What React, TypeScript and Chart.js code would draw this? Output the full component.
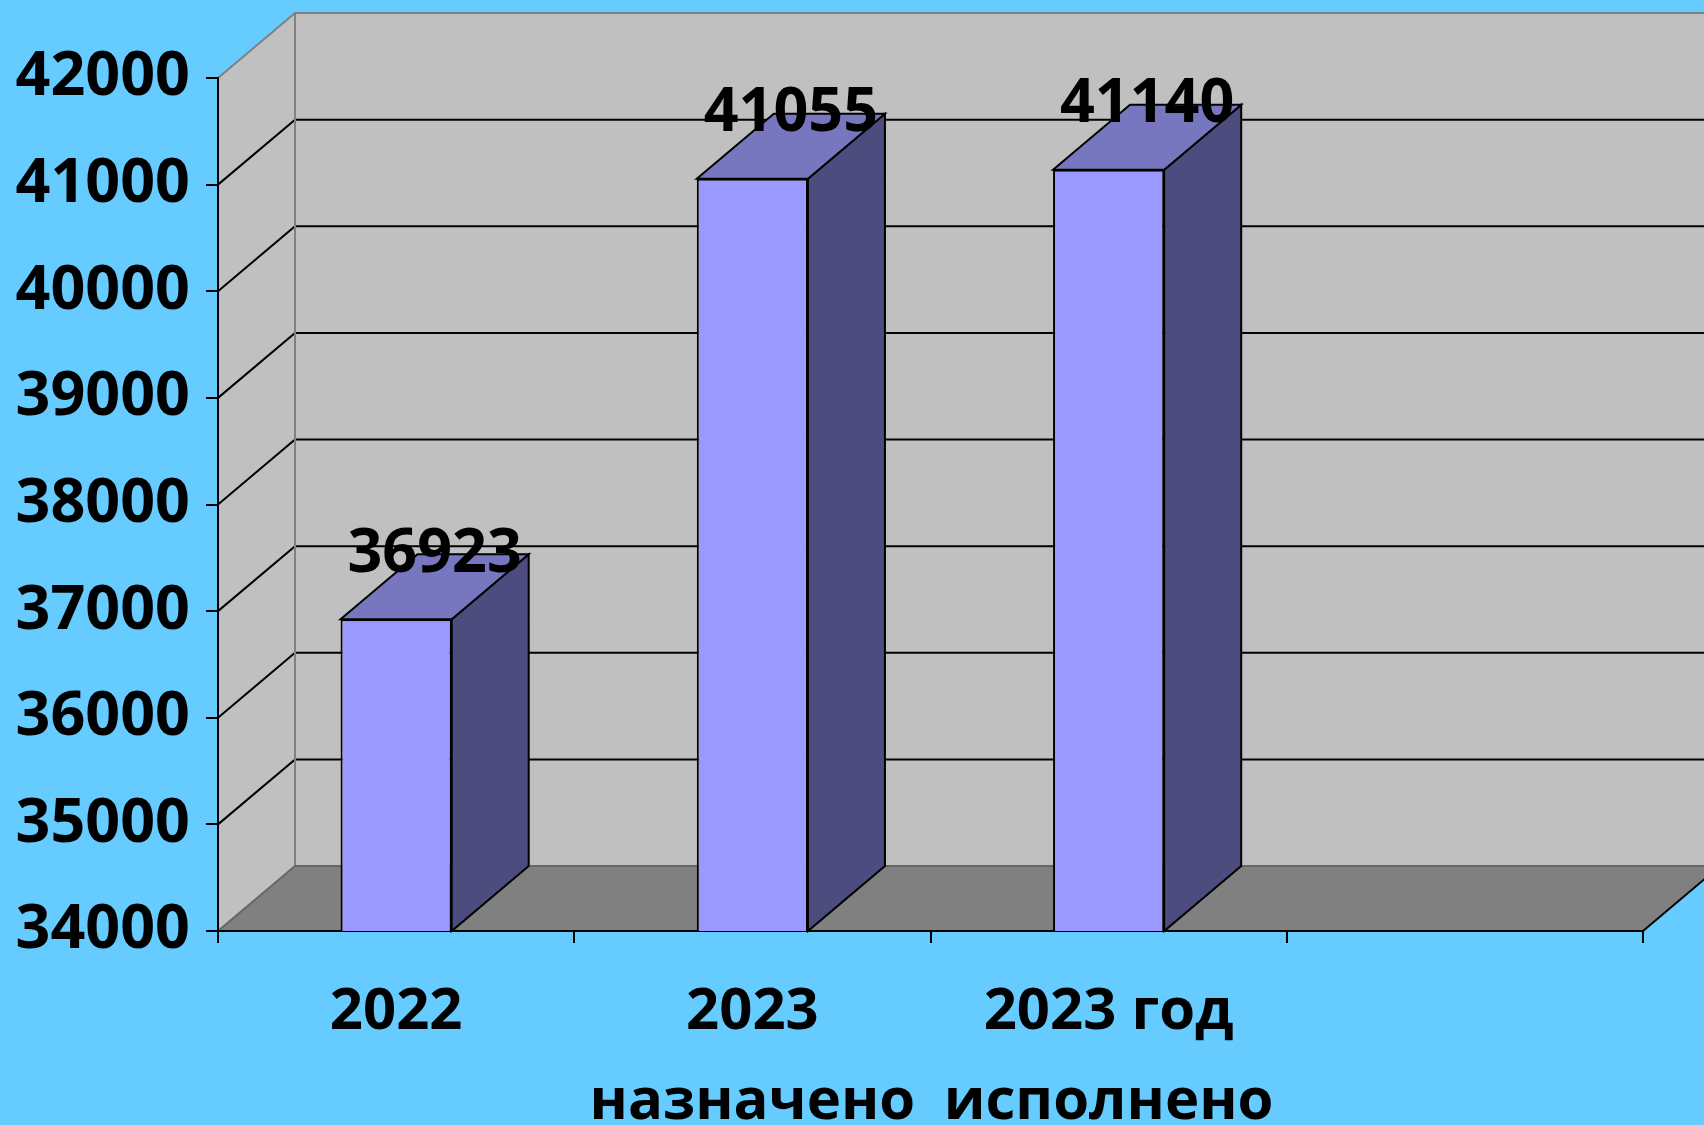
import React, { useEffect, useRef } from 'react';
import { Chart, registerables } from 'chart.js';

Chart.register(...registerables);

// ---- data ----
const categories: (string | string[])[] = ['2022', ['2023', 'назначено'], ['2023 год', 'исполнено'], ''];
const values: (number | null)[] = [36923, 41055, 41140, null];
const yMin = 34000;
const yMax = 42000;
const yStep = 1000;

// ---- style ----
const DX = 77;
const DY = -65;
const BG = '#66CCFF';
const WALL = '#C0C0C0';
const FLOOR = '#808080';
const EDGE = '#808080';
const BAR_FRONT = '#9999FF';
const BAR_SIDE = '#4C4C7E';
const BAR_TOP = '#7777BF';
const FONT_FAMILY = '"Open Sans", "Noto Sans", sans-serif';
const FONT_SIZE = 61;
const X_FONT_SIZE = 58;

function poly(ctx: CanvasRenderingContext2D, pts: number[][], fill?: string, stroke?: string, lw = 2) {
  ctx.beginPath();
  ctx.moveTo(pts[0][0], pts[0][1]);
  for (let i = 1; i < pts.length; i++) ctx.lineTo(pts[i][0], pts[i][1]);
  ctx.closePath();
  if (fill) {
    ctx.fillStyle = fill;
    ctx.fill();
  }
  if (stroke) {
    ctx.strokeStyle = stroke;
    ctx.lineWidth = lw;
    ctx.lineJoin = 'miter';
    ctx.stroke();
  }
}

function line(ctx: CanvasRenderingContext2D, pts: number[][], color: string, lw = 2) {
  ctx.beginPath();
  ctx.moveTo(pts[0][0], pts[0][1]);
  for (let i = 1; i < pts.length; i++) ctx.lineTo(pts[i][0], pts[i][1]);
  ctx.strokeStyle = color;
  ctx.lineWidth = lw;
  ctx.stroke();
}

const threeD = {
  id: 'threeD',
  beforeDraw(chart: any) {
    const ctx: CanvasRenderingContext2D = chart.ctx;
    const { left, right, top, bottom } = chart.chartArea;
    const W = chart.width;
    const y = chart.scales.y;
    ctx.save();
    ctx.fillStyle = BG;
    ctx.fillRect(0, 0, chart.width, chart.height);
    // left wall
    poly(ctx, [[left, top], [left + DX, top + DY], [left + DX, bottom + DY], [left, bottom]], WALL);
    // back wall
    ctx.fillStyle = WALL;
    ctx.fillRect(left + DX, top + DY, W - (left + DX), bottom - top);
    // floor
    poly(ctx, [[left, bottom], [right, bottom], [right + DX, bottom + DY], [left + DX, bottom + DY]], FLOOR);
    // gridlines
    for (let v = yMin + yStep; v < yMax; v += yStep) {
      const yy = y.getPixelForValue(v);
      line(ctx, [[left, yy], [left + DX, yy + DY], [W, yy + DY]], '#000000', 2);
    }
    // edges
    line(ctx, [[left, top], [left + DX, top + DY], [W, top + DY]], EDGE, 2);
    line(ctx, [[left + DX, top + DY], [left + DX, bottom + DY]], EDGE, 2);
    line(ctx, [[left, bottom], [left + DX, bottom + DY], [W, bottom + DY]], '#666666', 2);
    line(ctx, [[right, bottom], [right + DX, bottom + DY]], '#000000', 2);
    ctx.restore();
  },
  afterDatasetsDraw(chart: any) {
    const ctx: CanvasRenderingContext2D = chart.ctx;
    const meta = chart.getDatasetMeta(0);
    const base = chart.scales.y.getPixelForValue(yMin);
    ctx.save();
    meta.data.forEach((bar: any, i: number) => {
      const v = values[i];
      if (v == null) return;
      const { x, y, width } = bar.getProps(['x', 'y', 'width'], true);
      const l = x - width / 2;
      const r = x + width / 2;
      // side face
      poly(ctx, [[r, y], [r + DX, y + DY], [r + DX, base + DY], [r, base]], BAR_SIDE, '#000000', 2);
      // top face
      poly(ctx, [[l, y], [r, y], [r + DX, y + DY], [l + DX, y + DY]], BAR_TOP, '#000000', 2);
    });
    ctx.fillStyle = '#000000';
    ctx.font = `bold ${FONT_SIZE}px ${FONT_FAMILY}`;
    ctx.textAlign = 'center';
    ctx.textBaseline = 'middle';
    meta.data.forEach((bar: any, i: number) => {
      const v = values[i];
      if (v == null) return;
      const { x, y } = bar.getProps(['x', 'y'], true);
      ctx.fillText(String(v), x + DX / 2, y + DY);
    });
    ctx.restore();
  },
};

export default function App() {
  const ref = useRef<HTMLCanvasElement | null>(null);

  useEffect(() => {
    if (!ref.current) return;
    const yFont = { family: FONT_FAMILY, size: FONT_SIZE, weight: 'bold' as const };
    const xFont = { family: FONT_FAMILY, size: X_FONT_SIZE, weight: 'bold' as const, lineHeight: 1.55 };
    const chart = new Chart(ref.current, {
      type: 'bar',
      data: {
        labels: categories as any,
        datasets: [
          {
            data: values as any,
            backgroundColor: BAR_FRONT,
            borderColor: '#000000',
            borderWidth: 2,
            borderSkipped: false,
            barPercentage: 0.312,
            categoryPercentage: 1,
          },
        ],
      },
      options: {
        responsive: false,
        animation: false,
        devicePixelRatio: 1,
        layout: { padding: { top: 78, right: 61, left: 0, bottom: 0 } },
        plugins: { legend: { display: false }, tooltip: { enabled: false } },
        scales: {
          x: {
            offset: true,
            grid: { display: true, drawOnChartArea: false, drawTicks: true, tickLength: 12, color: '#000000', lineWidth: 2, offset: true },
            border: { display: true, color: '#000000', width: 2 },
            ticks: { color: '#000000', font: xFont, padding: 25, autoSkip: false, maxRotation: 0, minRotation: 0 },
            afterFit: (s: any) => {
              s.height = 194;
            },
          },
          y: {
            min: yMin,
            max: yMax,
            grid: { display: true, drawOnChartArea: false, drawTicks: true, tickLength: 12, color: '#000000', lineWidth: 2 },
            border: { display: true, color: '#000000', width: 2 },
            ticks: {
              stepSize: yStep,
              color: '#000000',
              font: yFont,
              padding: 16,
              callback: (v: any) => String(v),
            },
            afterFit: (s: any) => {
              s.width = 218;
            },
          },
        },
      },
      plugins: [threeD],
    });
    return () => chart.destroy();
  }, []);

  return (
    <div style={{ position: 'absolute', left: 0, top: 0, width: 1704, height: 1125, background: BG }}>
      <canvas ref={ref} width={1704} height={1125} />
    </div>
  );
}
